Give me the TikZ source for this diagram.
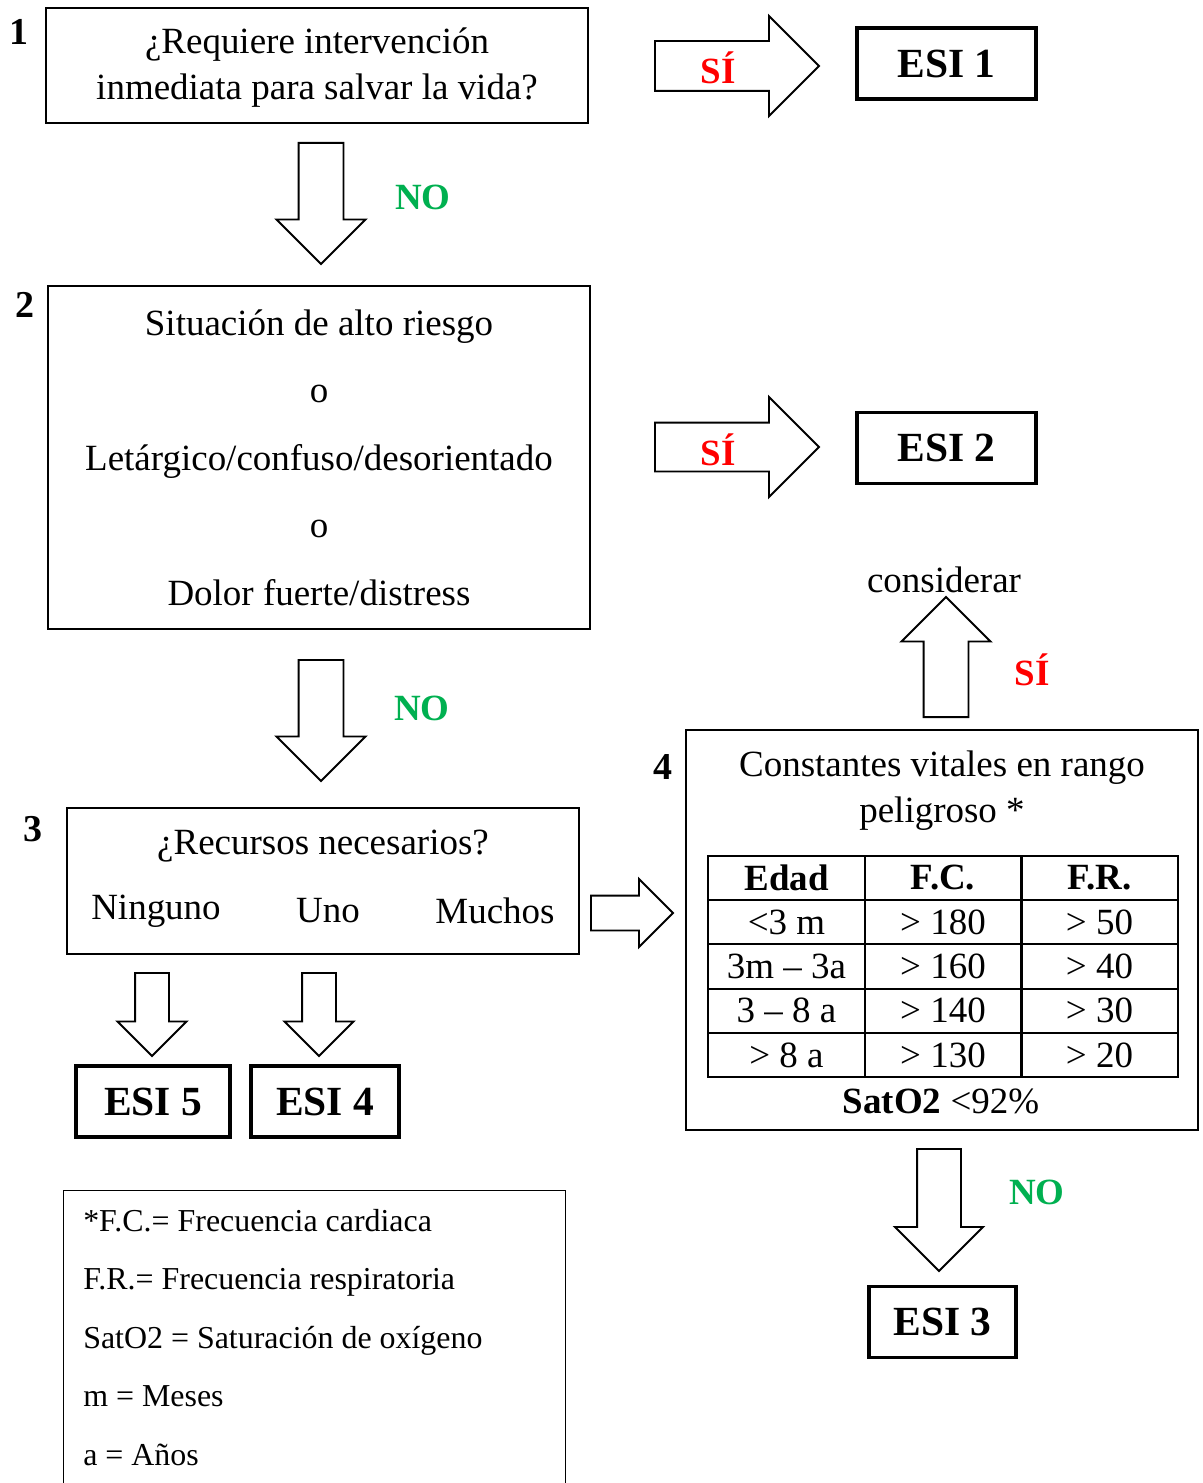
\documentclass[tikz,border=0pt]{standalone}
\usepackage{fontspec}
\setmainfont{Liberation Serif}
\usetikzlibrary{shapes.arrows, positioning}

\definecolor{sired}{RGB}{255,0,0}
\definecolor{nogreen}{RGB}{0,176,80}
\newcommand{\pxu}{0.025cm}

\begin{document}
\begin{tikzpicture}[
    x=0.025cm, y=-0.025cm,
    font=\fontsize{26.3}{33}\selectfont,
    qbox/.style n args={2}{
        draw, line width=1pt, align=center, inner sep=0pt,
        minimum width=#1*\pxu, minimum height=#2*\pxu
    },
    esibox/.style={
        draw, line width=2.8pt, inner sep=0pt,
        font=\fontsize{29.5}{33}\selectfont\bfseries,
        minimum width=#1*\pxu, minimum height=71*\pxu
    },
    stepnum/.style={font=\fontsize{27}{30}\selectfont\bfseries},
    silabel/.style={text=sired, font=\fontsize{26.3}{30}\selectfont\bfseries},
    nolabel/.style={text=nogreen, font=\fontsize{26.3}{30}\selectfont\bfseries},
    barrow/.style n args={3}{
        single arrow, draw, line width=1.4pt, fill=white,
        inner xsep=0pt, inner ysep=#2*0.5*\pxu,
        minimum height=#1*\pxu, minimum width=0pt,
        single arrow head extend=(#3-#2)*0.5*\pxu, single arrow tip angle=90
    },
    cell/.style={
        draw, line width=1.4pt, inner sep=0pt,
        minimum width=157*\pxu, minimum height=44.25*\pxu
    }
]
\useasboundingbox (0,0) rectangle (1202,1483);
\clip (0,0) rectangle (1202,1483);

% --- Step 1 ---
\node[qbox={542}{115}] (q1) at (317,65.5) {};
\node[align=center, font=\fontsize{26.3}{32.7}\selectfont] (q1text) at (317,68)
    {¿Requiere intervención\\inmediata para salvar la vida?};
\node[stepnum] (n1) at (19,32) {1};
\node[barrow={164}{48}{98}, anchor=tail] (a1) at (654,66) {};
\node[silabel] (si1) at (718,68) {SÍ};
\node[esibox=179] (esi1) at (946.5,63.5) {ESI 1};
\node[barrow={121}{43}{87}, anchor=tail, rotate=-90] (d1) at (321,142) {};
\node[nolabel] (no1) at (423,197) {NO};

% --- Step 2 ---
\node[qbox={542}{343}, font=\fontsize{26.3}{48}\selectfont] (q2) at (319,457.5)
    {Situación de alto riesgo\\o\\Letárgico/confuso/desorientado\\o\\Dolor fuerte/distress};
\node[stepnum] (n2) at (25,305) {2};
\node[barrow={164}{47}{98}, anchor=tail] (a2) at (654,447) {};
\node[silabel] (si2) at (718,450) {SÍ};
\node[esibox=179] (esi2) at (946.5,448) {ESI 2};
\node[barrow={121}{43}{87}, anchor=tail, rotate=-90] (d2) at (321,659) {};
\node[nolabel] (no2) at (422,708) {NO};

% --- Step 3 ---
\node[qbox={512}{146}] (q3) at (323,881) {};
\node[stepnum] (n3) at (33,829) {3};
\node (rec) at (323,846) {¿Recursos necesarios?};
\node (ning) at (156,911) {Ninguno};
\node (uno) at (328,911) {Uno};
\node (much) at (495,911) {Muchos};
\node[barrow={82}{33}{66}, anchor=tail] (a3) at (590,913) {};
\node[barrow={83}{32}{67}, anchor=tail, rotate=-90] (d5) at (152,972) {};
\node[barrow={83}{32}{67}, anchor=tail, rotate=-90] (d4) at (319,972) {};
\node[esibox=154] (esi5) at (153,1101.5) {ESI 5};
\node[esibox=148] (esi4) at (325,1101.5) {ESI 4};

% --- Step 4 ---
\node[qbox={512}{400}] (q4) at (942,930) {};
\node[stepnum] (n4) at (663,767) {4};
\node[align=center, font=\fontsize{26.3}{32.7}\selectfont] (cv) at (942,791)
    {Constantes vitales en rango\\peligroso *};
\foreach \r/\ca/\cb/\cc in {
    0/\textbf{Edad}/\textbf{F.C.}/\textbf{F.R.},
    1/{<3 m}/{> 180}/{> 50},
    2/{3m -- 3a}/{> 160}/{> 40},
    3/{3 -- 8 a}/{> 140}/{> 30},
    4/{> 8 a}/{> 130}/{> 20}}
{
    \node[cell] (t\r-a) at (786.5,{878+44.25*\r}) {\ca};
    \node[cell] (t\r-b) at (943,{878+44.25*\r}) {\cb};
    \node[cell] (t\r-c) at (1099.5,{878+44.25*\r}) {\cc};
}
\node (sat) at (941,1101) {\textbf{SatO2} <92\%};
\node[barrow={120}{43}{87}, anchor=tail, rotate=90] (up) at (946,718) {};
\node (cons) at (944,580) {considerar};
\node[silabel] (si4) at (1032,670) {SÍ};
\node[barrow={122}{42}{86}, anchor=tail, rotate=-90] (d3) at (939,1148) {};
\node[nolabel] (no4) at (1037,1192) {NO};
\node[esibox=147] (esi3) at (942.5,1322) {ESI 3};

% --- Legend ---
\node[draw, line width=1pt, anchor=north west, inner sep=0pt,
      minimum width=502*\pxu, minimum height=400*\pxu] (leg) at (63,1190) {};
\node[anchor=north west, inner sep=0pt, align=left,
      font=\fontsize{22.7}{41.6}\selectfont] (legtext) at (83,1209)
    {*F.C.= Frecuencia cardiaca\\
     F.R.= Frecuencia respiratoria\\
     SatO2 = Saturación de oxígeno\\
     m = Meses\\
     a = Años};

\end{tikzpicture}
\end{document}
